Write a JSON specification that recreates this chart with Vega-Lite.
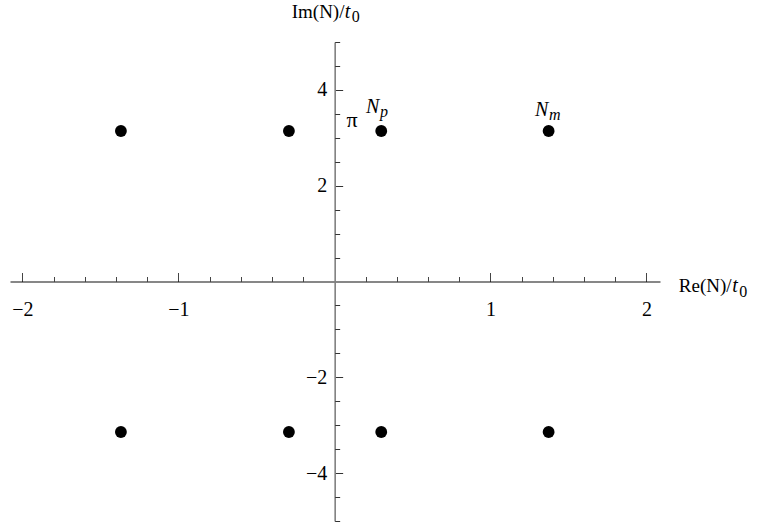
{
  "$schema": "https://vega.github.io/schema/vega-lite/v6.json",
  "width": 650,
  "height": 479,
  "autosize": "none",
  "padding": {"left": 10, "top": 42, "right": 99, "bottom": 8},
  "background": "white",
  "config": {
    "view": {"stroke": null},
    "axis": {"grid": false, "labelFont": "Liberation Serif", "labelFontSize": 20, "labelColor": "black", "labelFlush": false, "labelOverlap": false, "labelBound": false}
  },
  "datasets": {
    "points": [
      {"re": -1.369, "im": 3.1416}, {"re": -0.292, "im": 3.1416}, {"re": 0.300, "im": 3.1416}, {"re": 1.373, "im": 3.1416},
      {"re": -1.369, "im": -3.1416}, {"re": -0.292, "im": -3.1416}, {"re": 0.300, "im": -3.1416}, {"re": 1.373, "im": -3.1416}
    ],
    "normal": [
      {"x": 2.208, "y": -0.219, "text": "Re(N)/"},
      {"x": -0.274, "y": 5.495, "text": "Im(N)/"}
    ],
    "greek": [
      {"x": 0.077, "y": 3.225, "text": "π"}
    ],
    "italic": [
      {"x": 2.55, "y": -0.219, "text": "t"},
      {"x": 0.066, "y": 5.495, "text": "t"},
      {"x": 0.202, "y": 3.518, "text": "N"},
      {"x": 1.285, "y": 3.455, "text": "N"}
    ],
    "sub": [
      {"x": 2.595, "y": -0.317, "text": "0"},
      {"x": 0.111, "y": 5.418, "text": "0"}
    ],
    "subitalic": [
      {"x": 0.292, "y": 3.434, "text": "p"},
      {"x": 1.375, "y": 3.37, "text": "m"}
    ]
  },
  "layer": [
    {
      "data": {"name": "points"},
      "mark": {"type": "circle", "size": 140, "color": "black", "opacity": 1},
      "encoding": {
        "x": {
          "field": "re", "type": "quantitative",
          "scale": {"domain": [-2.08, 2.087], "nice": false, "zero": false},
          "axis": {
            "orient": "bottom", "offset": -239.5, "title": null,
            "values": [-2, -1, 1, 2], "tickSize": -9, "tickColor": "#444", "tickWidth": 1,
            "domainColor": "#111", "domainWidth": 1.2,
            "labelPadding": 27.4, "labelFont": "Liberation Serif", "labelFontSize": 20, "labelColor": "black",
            "labelFlush": false, "labelOverlap": false, "labelBound": false, "grid": false
          }
        },
        "y": {
          "field": "im", "type": "quantitative",
          "scale": {"domain": [-5, 5], "nice": false, "zero": false},
          "axis": {
            "orient": "left", "offset": -324.67, "title": null,
            "values": [-4, -2, 2, 4], "tickSize": -8, "tickColor": "#333", "tickWidth": 1,
            "domainColor": "#808080", "domainWidth": 1.6,
            "labelPadding": 16, "labelFont": "Liberation Serif", "labelFontSize": 20, "labelColor": "black",
            "labelFlush": false, "labelOverlap": false, "labelBound": false, "grid": false
          }
        }
      }
    },
    {
      "data": {"name": "normal"},
      "mark": {"type": "text", "font": "Liberation Serif", "fontSize": 19, "align": "left", "baseline": "alphabetic", "color": "black"},
      "encoding": {
        "x": {
          "field": "x", "type": "quantitative",
          "scale": {"domain": [-2.08, 2.087], "nice": false, "zero": false},
          "axis": {
            "orient": "bottom", "offset": -239.5, "title": null,
            "values": [-1.8, -1.6, -1.4, -1.2, -0.8, -0.6, -0.4, -0.2, 0.2, 0.4, 0.6, 0.8, 1.2, 1.4, 1.6, 1.8],
            "tickSize": -5, "tickColor": "#444", "tickWidth": 1,
            "domain": false, "labels": false, "grid": false
          }
        },
        "y": {
          "field": "y", "type": "quantitative",
          "scale": {"domain": [-5, 5], "nice": false, "zero": false},
          "axis": {
            "orient": "left", "offset": -324.67, "title": null,
            "values": [-5, -4.5, -3.5, -3, -2.5, -1.5, -1, -0.5, 0.5, 1, 1.5, 2.5, 3, 3.5, 4.5, 5],
            "tickSize": -5, "tickColor": "#333", "tickWidth": 1,
            "domain": false, "labels": false, "grid": false
          }
        },
        "text": {"field": "text"}
      }
    },
    {
      "data": {"name": "greek"},
      "mark": {"type": "text", "font": "Liberation Serif", "fontSize": 22, "align": "left", "baseline": "alphabetic", "color": "black"},
      "encoding": {
        "x": {"field": "x", "type": "quantitative", "scale": {"domain": [-2.08, 2.087], "nice": false, "zero": false}, "axis": null},
        "y": {"field": "y", "type": "quantitative", "scale": {"domain": [-5, 5], "nice": false, "zero": false}, "axis": null},
        "text": {"field": "text"}
      }
    },
    {
      "data": {"name": "italic"},
      "mark": {"type": "text", "font": "Liberation Serif", "fontSize": 20, "fontStyle": "italic", "align": "left", "baseline": "alphabetic", "color": "black"},
      "encoding": {
        "x": {"field": "x", "type": "quantitative", "scale": {"domain": [-2.08, 2.087], "nice": false, "zero": false}, "axis": null},
        "y": {"field": "y", "type": "quantitative", "scale": {"domain": [-5, 5], "nice": false, "zero": false}, "axis": null},
        "text": {"field": "text"}
      }
    },
    {
      "data": {"name": "sub"},
      "mark": {"type": "text", "font": "Liberation Serif", "fontSize": 16, "align": "left", "baseline": "alphabetic", "color": "black"},
      "encoding": {
        "x": {"field": "x", "type": "quantitative", "scale": {"domain": [-2.08, 2.087], "nice": false, "zero": false}, "axis": null},
        "y": {"field": "y", "type": "quantitative", "scale": {"domain": [-5, 5], "nice": false, "zero": false}, "axis": null},
        "text": {"field": "text"}
      }
    },
    {
      "data": {"name": "subitalic"},
      "mark": {"type": "text", "font": "Liberation Serif", "fontSize": 16, "fontStyle": "italic", "align": "left", "baseline": "alphabetic", "color": "black"},
      "encoding": {
        "x": {"field": "x", "type": "quantitative", "scale": {"domain": [-2.08, 2.087], "nice": false, "zero": false}, "axis": null},
        "y": {"field": "y", "type": "quantitative", "scale": {"domain": [-5, 5], "nice": false, "zero": false}, "axis": null},
        "text": {"field": "text"}
      }
    }
  ],
  "resolve": {"axis": {"x": "independent", "y": "independent"}}
}
